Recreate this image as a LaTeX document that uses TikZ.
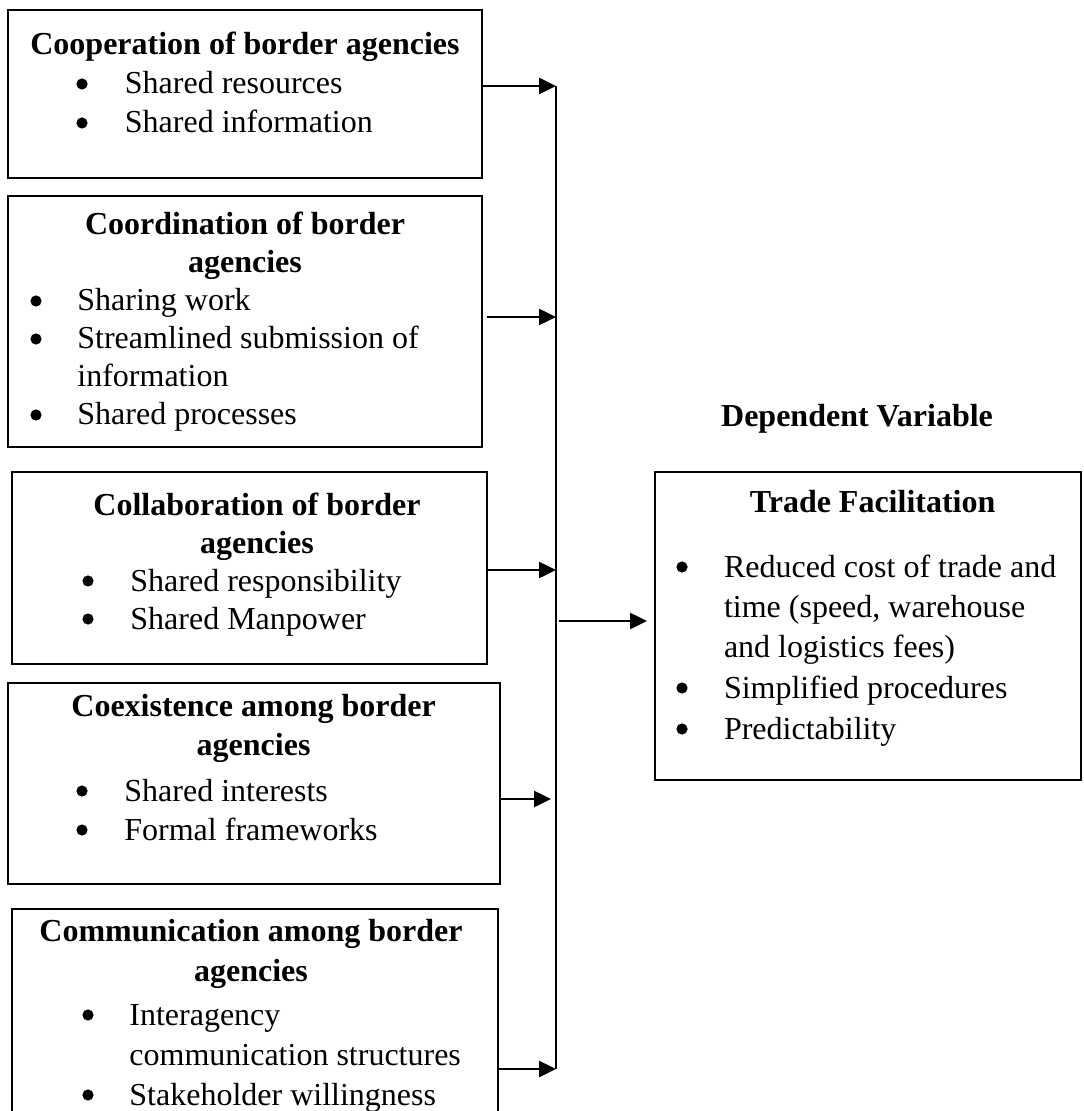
\documentclass[tikz,border=0pt]{standalone}
\usepackage{fontspec}
\setmainfont{Liberation Serif}
\usetikzlibrary{arrows.meta,fit}
\begin{document}
\begin{tikzpicture}[x=0.5pt,y=-0.5pt,
  box/.style={draw, line width=1pt, inner sep=0pt},
  txt/.style={inner sep=0pt, anchor=base west, font=\fontsize{16pt}{19pt}\selectfont},
  ttl/.style={inner sep=0pt, anchor=base, font=\fontsize{16pt}{19pt}\selectfont\bfseries},
  arr/.style={line width=1.25pt, -{Triangle[length=8.5pt,width=8pt]}},
  bus/.style={line width=1.2pt},
  dot/.style={fill=black}]
\clip (0,0) rectangle (1083,1111);
\fill[white] (0,0) rectangle (1083,1111);

% ---------- Box 1 ----------
\node[box, fit={(8,10) (482,178)}] (b1) {};
\node[ttl] (t1) at (245,55) {Cooperation of border agencies};
\fill[dot] (82,84) circle (2.8pt);
\node[txt] (i11) at (124.5,94) {Shared resources};
\fill[dot] (82,123) circle (2.8pt);
\node[txt] (i12) at (124.5,133) {Shared information};

% ---------- Box 2 ----------
\node[box, fit={(8,196) (482,447)}] (b2) {};
\node[ttl] (t2a) at (245,235) {Coordination of border};
\node[ttl] (t2b) at (245,273) {agencies};
\fill[dot] (36,301) circle (2.8pt);
\node[txt] (i21) at (77,311) {Sharing work};
\fill[dot] (36,339) circle (2.8pt);
\node[txt] (i22) at (77,349) {Streamlined submission of};
\node[txt] (i22b) at (77,387) {information};
\fill[dot] (36,415) circle (2.8pt);
\node[txt] (i23) at (77,425) {Shared processes};

% ---------- Box 3 ----------
\node[box, fit={(12,472) (487,664)}] (b3) {};
\node[ttl] (t3a) at (257,515) {Collaboration of border};
\node[ttl] (t3b) at (257,553) {agencies};
\fill[dot] (88,581) circle (2.8pt);
\node[txt] (i31) at (130,591) {Shared responsibility};
\fill[dot] (88,619) circle (2.8pt);
\node[txt] (i32) at (130,629) {Shared Manpower};

% ---------- Box 4 ----------
\node[box, fit={(8,683) (500,884)}] (b4) {};
\node[ttl] (t4a) at (253.6,716) {Coexistence among border};
\node[ttl] (t4b) at (253.6,755) {agencies};
\fill[dot] (82,791) circle (2.8pt);
\node[txt] (i41) at (124,801) {Shared interests};
\fill[dot] (82,830) circle (2.8pt);
\node[txt] (i42) at (124,840) {Formal frameworks};

% ---------- Box 5 ----------
\node[box, fit={(12,909) (498,1130)}] (b5) {};
\node[ttl] (t5a) at (251,941) {Communication among border};
\node[ttl] (t5b) at (251,981) {agencies};
\fill[dot] (88,1015) circle (2.8pt);
\node[txt] (i51) at (129,1025) {Interagency};
\node[txt] (i51b) at (129,1065) {communication structures};
\fill[dot] (88,1095) circle (2.8pt);
\node[txt] (i52) at (129,1105) {Stakeholder willingness};

% ---------- Dependent variable ----------
\node[ttl] (dv) at (857,427) {Dependent Variable};
\node[box, fit={(655,472) (1081,780)}] (tf) {};
\node[ttl] (ttf) at (872.6,512) {Trade Facilitation};
\fill[dot] (682,567) circle (2.8pt);
\node[txt] (r1) at (723.6,577) {Reduced cost of trade and};
\node[txt] (r1b) at (723.6,617) {time (speed, warehouse};
\node[txt] (r1c) at (723.6,657) {and logistics fees)};
\fill[dot] (682,688) circle (2.8pt);
\node[txt] (r2) at (723.6,698) {Simplified procedures};
\fill[dot] (682,729) circle (2.8pt);
\node[txt] (r3) at (723.6,739) {Predictability};

% ---------- Connectors ----------
\coordinate (j1) at (556,86);
\coordinate (j2) at (556,317);
\coordinate (j3) at (556,570);
\coordinate (j4) at (551,799);
\coordinate (j5) at (556,1069);
\coordinate (m) at (559,621);
\draw[bus] (j1) -- (j5);
\draw[arr] (b1.east |- j1) -- (j1);
\draw[arr] (b2.east |- j2) ++(2pt,0) -- (j2);
\draw[arr] (b3.east |- j3) -- (j3);
\draw[arr] (b4.east |- j4) -- (j4);
\draw[arr] (b5.east |- j5) -- (j5);
\draw[arr, shorten >=3.5pt] (m) -- (tf.west |- m);
\end{tikzpicture}
\end{document}
